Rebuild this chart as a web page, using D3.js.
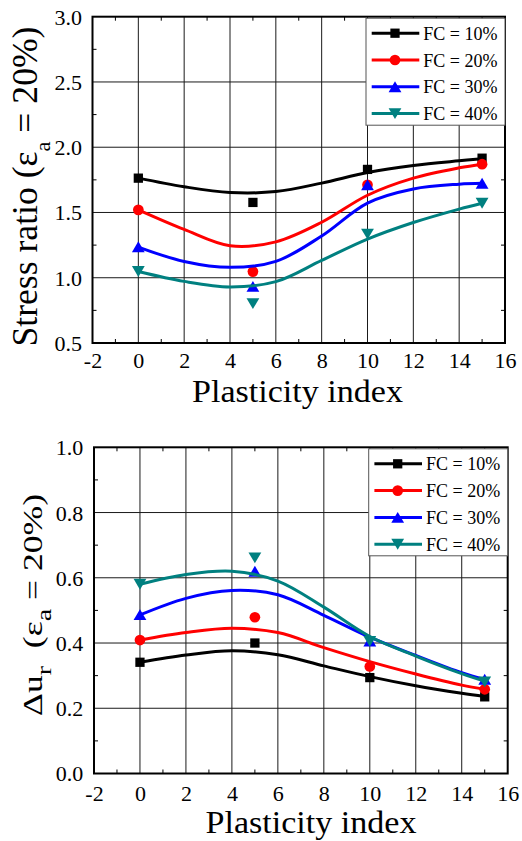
<!DOCTYPE html>
<html><head><meta charset="utf-8">
<script src="https://cdn.jsdelivr.net/npm/d3@7"></script>
<style>
body{margin:0;background:#fff}
svg{display:block}
</style>
</head><body>
<svg id="c" width="522" height="841"></svg>
<script>
// ---------- data ----------
const categories = ["FC = 10%", "FC = 20%", "FC = 30%", "FC = 40%"];
const seriesColors = ["#000000", "#ff0000", "#0000ff", "#008080"];
const markerKinds = ["square", "circle", "up", "down"];

const plasticityIndex = [0, 5, 10, 15];
const xTickValues = [-2, 0, 2, 4, 6, 8, 10, 12, 14, 16];

// Top panel: stress ratio at 20% axial strain (measured points)
const stressFC10 = [1.763, 1.577, 1.830, 1.916];
const stressFC20 = [1.520, 1.047, 1.712, 1.870];
const stressFC30 = [1.238, 0.934, 1.712, 1.724];
const stressFC40 = [1.048, 0.802, 1.334, 1.571];
const stressTicks = [0.5, 1.0, 1.5, 2.0, 2.5, 3.0];

// Top panel: fitted trend curves
const fitPI = [0, 2, 4, 6, 8, 10, 12, 14, 15];
const stressFitFC10 = [1.763, 1.697, 1.653, 1.660, 1.725, 1.806, 1.860, 1.896, 1.912];
const stressFitFC20 = [1.520, 1.370, 1.245, 1.275, 1.425, 1.632, 1.763, 1.842, 1.870];
const stressFitFC30 = [1.235, 1.125, 1.080, 1.125, 1.320, 1.572, 1.680, 1.717, 1.724];
const stressFitFC40 = [1.048, 0.972, 0.930, 0.970, 1.133, 1.296, 1.423, 1.526, 1.571];

// Bottom panel: excess pore pressure ratio at 20% axial strain
const duFC10 = [0.341, 0.400, 0.294, 0.235];
const duFC20 = [0.409, 0.479, 0.328, 0.258];
const duFC30 = [0.487, 0.620, 0.406, 0.289];
const duFC40 = [0.580, 0.661, 0.405, 0.281];
const duTicks = [0.0, 0.2, 0.4, 0.6, 0.8, 1.0];

const duFitFC10 = [0.341, 0.363, 0.376, 0.364, 0.330, 0.297, 0.269, 0.246, 0.236];
const duFitFC20 = [0.409, 0.432, 0.445, 0.432, 0.386, 0.343, 0.305, 0.271, 0.258];
const duFitFC30 = [0.486, 0.537, 0.561, 0.548, 0.485, 0.418, 0.362, 0.309, 0.288];
const duFitFC40 = [0.580, 0.610, 0.620, 0.590, 0.510, 0.420, 0.360, 0.306, 0.283];

// ---------- drawing ----------
const FONT = "'Liberation Serif', 'Times New Roman', Times, 'DejaVu Serif', serif";
const svg = d3.select("#c");

const triUp = {draw(ctx, size){ const w = Math.sqrt(size)*1.35, h = Math.sqrt(size)*1.15;
  ctx.moveTo(0,-h/2); ctx.lineTo(w/2,h/2); ctx.lineTo(-w/2,h/2); ctx.closePath(); }};
const triDown = {draw(ctx, size){ const w = Math.sqrt(size)*1.35, h = Math.sqrt(size)*1.15;
  ctx.moveTo(0,h/2); ctx.lineTo(w/2,-h/2); ctx.lineTo(-w/2,-h/2); ctx.closePath(); }};
function symbolFor(kind){
  if (kind === "square") return d3.symbol(d3.symbolSquare, 86)();
  if (kind === "circle") return d3.symbol(d3.symbolCircle, 90)();
  if (kind === "up") return d3.symbol(triUp, 90)();
  return d3.symbol(triDown, 90)();
}

function panel(cfg){
  const g = svg.append("g");
  const x = d3.scaleLinear().domain([-2, 16]).range([cfg.left, cfg.right]);
  const y = d3.scaleLinear().domain(cfg.yDomain).range([cfg.bottom, cfg.top]);

  // grid
  const grid = g.append("g").attr("stroke", "#1a1a1a").attr("stroke-width", 1);
  xTickValues.slice(1, -1).forEach(v => grid.append("line")
    .attr("x1", x(v)).attr("x2", x(v)).attr("y1", cfg.top).attr("y2", cfg.bottom));
  cfg.yTicks.slice(1, -1).forEach(v => grid.append("line")
    .attr("y1", y(v)).attr("y2", y(v)).attr("x1", cfg.left).attr("x2", cfg.right));

  // minor ticks (inside, all sides)
  const minor = g.append("g").attr("stroke", "#000").attr("stroke-width", 1);
  d3.range(-1, 16, 2).forEach(v => {
    minor.append("line").attr("x1", x(v)).attr("x2", x(v)).attr("y1", cfg.bottom).attr("y2", cfg.bottom - 4);
    minor.append("line").attr("x1", x(v)).attr("x2", x(v)).attr("y1", cfg.top).attr("y2", cfg.top + 4);
  });
  cfg.yMinor.forEach(v => {
    minor.append("line").attr("y1", y(v)).attr("y2", y(v)).attr("x1", cfg.left).attr("x2", cfg.left + 4);
    minor.append("line").attr("y1", y(v)).attr("y2", y(v)).attr("x1", cfg.right).attr("x2", cfg.right - 4);
  });

  // frame
  g.append("rect").attr("x", cfg.left).attr("y", cfg.top)
    .attr("width", cfg.right - cfg.left).attr("height", cfg.bottom - cfg.top)
    .attr("fill", "none").attr("stroke", "#000").attr("stroke-width", 2);

  // axes tick labels via d3 axes (lines hidden)
  const xAxis = g.append("g").attr("transform", `translate(0,${cfg.bottom})`)
    .call(d3.axisBottom(x).tickValues(xTickValues).tickFormat(d => String(d)).tickSize(0).tickPadding(0));
  xAxis.attr("font-family", null).attr("font-size", null);
  xAxis.select(".domain").remove();
  xAxis.selectAll("text").style("font-family", FONT).style("font-size", "22px").attr("fill", "#000")
    .attr("y", cfg.xTickBase - cfg.bottom).attr("dy", 0);

  const yAxis = g.append("g").attr("transform", `translate(${cfg.yTickRight},0)`)
    .call(d3.axisLeft(y).tickValues(cfg.yTicks).tickFormat(d3.format(".1f")).tickSize(0).tickPadding(0));
  yAxis.attr("font-family", null).attr("font-size", null);
  yAxis.select(".domain").remove();
  yAxis.selectAll("text").style("font-family", FONT).style("font-size", "22px").attr("fill", "#000")
    .attr("x", 0).attr("dy", "0.34em");

  // axis titles
  g.append("text").attr("x", cfg.xTitleX).attr("y", cfg.xTitleBase)
    .attr("text-anchor", "middle").style("font-family", FONT).style("font-size", "31px")
    .attr("textLength", 211).attr("lengthAdjust", "spacingAndGlyphs")
    .text("Plasticity index");

  const yt = g.append("text")
    .attr("transform", `translate(${cfg.yTitleBase},${cfg.yTitleY}) rotate(-90)`)
    .attr("text-anchor", "middle").style("font-family", FONT).style("font-size", cfg.yTitleSize + "px")
    .attr("textLength", cfg.yTitleLen).attr("lengthAdjust", "spacingAndGlyphs");
  cfg.yTitle(yt);

  // series
  const line = d3.line().x(d => x(d[0])).y(d => y(d[1])).curve(d3.curveCatmullRom.alpha(0.5));
  cfg.series.forEach((s, i) => {
    g.append("path").attr("d", line(fitPI.map((p, k) => [p, s.fit[k]])))
      .attr("fill", "none").attr("stroke", seriesColors[i]).attr("stroke-width", 3);
    g.append("g").selectAll("path").data(plasticityIndex.map((p, k) => [p, s.pts[k]]))
      .join("path").attr("d", symbolFor(markerKinds[i]))
      .attr("transform", d => `translate(${x(d[0])},${y(d[1])})`)
      .attr("fill", seriesColors[i]);
  });

  // legend
  const lx = cfg.right - 139, ly = cfg.top + 1.5;
  const lg = g.append("g");
  lg.append("rect").attr("x", lx).attr("y", ly).attr("width", 139).attr("height", 107)
    .attr("fill", "#fff").attr("stroke", "#555").attr("stroke-width", 1);
  categories.forEach((c, i) => {
    const ry = ly + 15 + i * 26.8;
    lg.append("line").attr("x1", lx + 5.7).attr("x2", lx + 53.3).attr("y1", ry).attr("y2", ry)
      .attr("stroke", seriesColors[i]).attr("stroke-width", 3);
    lg.append("path").attr("d", symbolFor(markerKinds[i]))
      .attr("transform", `translate(${lx + 29},${ry})`).attr("fill", seriesColors[i]);
    lg.append("text").attr("x", lx + 57.3).attr("y", ry + 6.5)
      .style("font-family", FONT).style("font-size", "18px").text(c);
  });
}

panel({
  left: 92.5, right: 505, top: 16.7, bottom: 343,
  yDomain: [0.5, 3.0], yTicks: stressTicks, yMinor: [0.75, 1.25, 1.75, 2.25, 2.75],
  xTickBase: 368, xTitleBase: 402, xTitleX: 297.5,
  yTickRight: 82, yTitleBase: 37, yTitleY: 186.5, yTitleSize: 35, yTitleLen: 320,
  yTitle: t => {
    t.append("tspan").text("Stress ratio (ε");
    t.append("tspan").style("font-size", "22px").attr("dy", 13).text("a");
    t.append("tspan").attr("dy", -13).text(" = 20%)");
  },
  series: [
    {pts: stressFC10, fit: stressFitFC10},
    {pts: stressFC20, fit: stressFitFC20},
    {pts: stressFC30, fit: stressFitFC30},
    {pts: stressFC40, fit: stressFitFC40}
  ]
});

panel({
  left: 94, right: 507.7, top: 447.3, bottom: 773.5,
  yDomain: [0, 1.0], yTicks: duTicks, yMinor: [0.1, 0.3, 0.5, 0.7, 0.9],
  xTickBase: 800.5, xTitleBase: 833, xTitleX: 311,
  yTickRight: 83.3, yTitleBase: 41.5, yTitleY: 605, yTitleSize: 28, yTitleLen: 222,
  yTitle: t => {
    t.append("tspan").text("Δu");
    t.append("tspan").style("font-size", "22px").attr("dy", 9).text("r");
    t.append("tspan").attr("dy", -9).text("\u00a0\u00a0(ε");
    t.append("tspan").style("font-size", "22px").attr("dy", 9).text("a");
    t.append("tspan").attr("dy", -9).text(" = 20%)");
  },
  series: [
    {pts: duFC10, fit: duFitFC10},
    {pts: duFC20, fit: duFitFC20},
    {pts: duFC30, fit: duFitFC30},
    {pts: duFC40, fit: duFitFC40}
  ]
});
</script>
</body></html>
